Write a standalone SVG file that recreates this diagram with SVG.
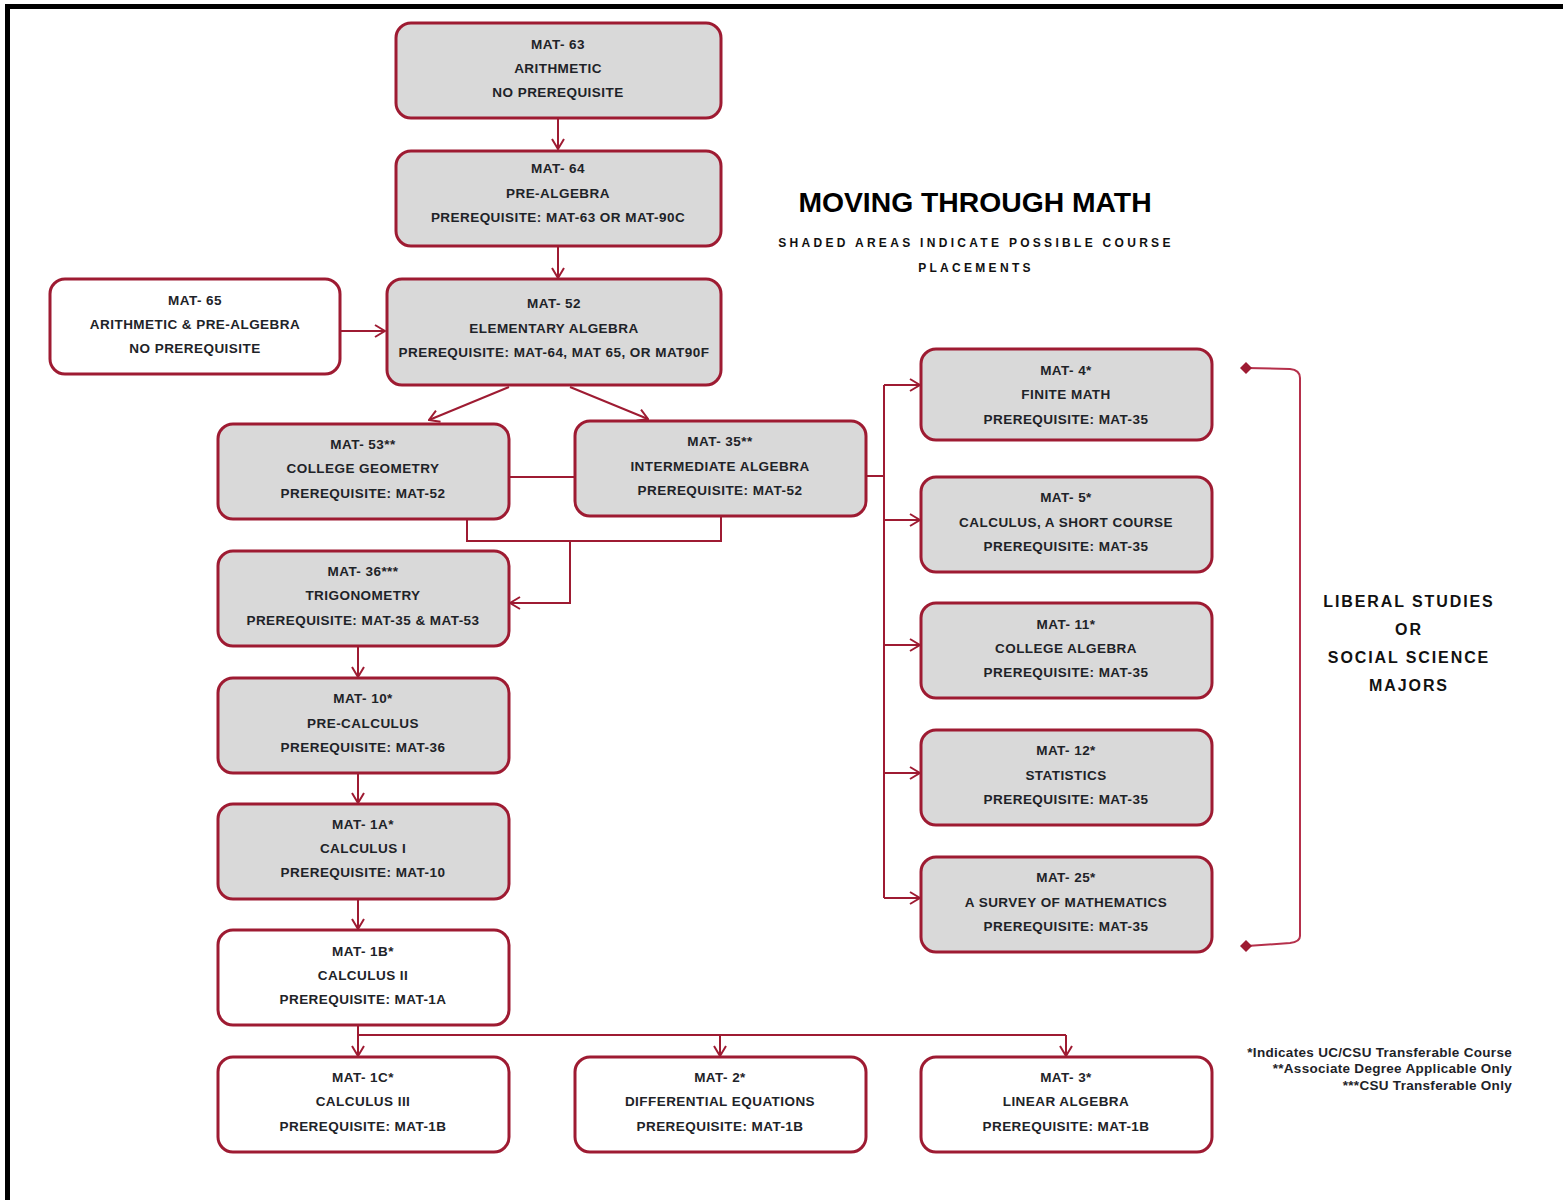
<svg xmlns="http://www.w3.org/2000/svg" width="1563" height="1200" viewBox="0 0 1563 1200">
<defs>
<style>
.box{stroke:#9e1b32;stroke-width:3;}
.g{fill:#d9d9d9;}
.w{fill:#ffffff;}
.t{font-family:"Liberation Sans",Arial,sans-serif;font-size:13.5px;font-weight:bold;fill:#1e2328;text-anchor:middle;letter-spacing:0.45px;}
.c{fill:none;stroke:#9e1b32;stroke-width:2;}
.title{font-family:"Liberation Sans",Arial,sans-serif;font-size:28.3px;font-weight:bold;fill:#000;text-anchor:middle;}
.sub{font-family:"Liberation Sans",Arial,sans-serif;font-size:12px;font-weight:bold;fill:#111;text-anchor:middle;letter-spacing:3.3px;}
.maj{font-family:"Liberation Sans",Arial,sans-serif;font-size:16px;font-weight:bold;fill:#111;text-anchor:middle;letter-spacing:1.9px;}
.leg{font-family:"Liberation Sans",Arial,sans-serif;font-size:13.5px;font-weight:bold;fill:#1e2328;text-anchor:end;letter-spacing:0.3px;}
</style>
<marker id="arr" markerWidth="12" markerHeight="14" refX="11" refY="7" orient="auto" markerUnits="userSpaceOnUse">
<path d="M1,1 L11,7 L1,13" fill="none" stroke="#9e1b32" stroke-width="2"/>
</marker>
</defs>
<rect x="0" y="0" width="1563" height="1200" fill="#ffffff"/>
<rect x="7.5" y="6.5" width="1700" height="1400" fill="none" stroke="#000" stroke-width="5"/>

<g id="title">
<text class="title" x="975" y="212">MOVING THROUGH MATH</text>
<text class="sub" x="976" y="247">SHADED AREAS INDICATE POSSIBLE COURSE</text>
<text class="sub" x="976" y="272">PLACEMENTS</text>
</g>

<g id="connectors">
<path class="c" d="M558,119 V149" marker-end="url(#arr)"/>
<path class="c" d="M558,247 V278" marker-end="url(#arr)"/>
<path class="c" d="M341,331 H385" marker-end="url(#arr)"/>
<path class="c" d="M509,387 L429,420" marker-end="url(#arr)"/>
<path class="c" d="M570,387 L648,419" marker-end="url(#arr)"/>
<path class="c" d="M509,477 H575"/>
<path class="c" d="M467,520 V541 H721 V517"/>
<path class="c" d="M570,541 V603 H510" marker-end="url(#arr)"/>
<path class="c" d="M867,476 H884"/>
<path class="c" d="M884,385 V898"/>
<path class="c" d="M884,385 H920" marker-end="url(#arr)"/>
<path class="c" d="M884,520 H920" marker-end="url(#arr)"/>
<path class="c" d="M884,645 H920" marker-end="url(#arr)"/>
<path class="c" d="M884,773 H920" marker-end="url(#arr)"/>
<path class="c" d="M884,898 H920" marker-end="url(#arr)"/>
<path class="c" d="M358,647 V677" marker-end="url(#arr)"/>
<path class="c" d="M358,774 V803" marker-end="url(#arr)"/>
<path class="c" d="M358,900 V929" marker-end="url(#arr)"/>
<path class="c" d="M358,1026 V1056" marker-end="url(#arr)"/>
<path class="c" d="M358,1035 H1066"/>
<path class="c" d="M720,1035 V1056" marker-end="url(#arr)"/>
<path class="c" d="M1066,1035 V1056" marker-end="url(#arr)"/>
</g>

<g id="bracket">
<path d="M1247,368 L1290,369 Q1300,370 1300,378 L1300,936 Q1300,942 1290,943 L1247,946" fill="none" stroke="#b5304b" stroke-width="2"/>
<polygon points="1240,368 1246,362 1252,368 1246,374" fill="#9e1b32"/>
<polygon points="1240,946 1246,940 1252,946 1246,952" fill="#9e1b32"/>
</g>

<g id="majors">
<text class="maj" x="1409" y="607">LIBERAL STUDIES</text>
<text class="maj" x="1409" y="635">OR</text>
<text class="maj" x="1409" y="663">SOCIAL SCIENCE</text>
<text class="maj" x="1409" y="691">MAJORS</text>
</g>

<g id="legend">
<text class="leg" x="1512" y="1057">*Indicates UC/CSU Transferable Course</text>
<text class="leg" x="1512" y="1073">**Associate Degree Applicable Only</text>
<text class="leg" x="1512" y="1090">***CSU Transferable Only</text>
</g>

<g id="mat63">
<rect class="box g" x="396" y="23" width="325" height="95" rx="15"/>
<text class="t" x="558" y="49">MAT- 63</text>
<text class="t" x="558" y="73">ARITHMETIC</text>
<text class="t" x="558" y="97">NO PREREQUISITE</text>
</g>
<g id="mat64">
<rect class="box g" x="396" y="151" width="325" height="95" rx="15"/>
<text class="t" x="558" y="173">MAT- 64</text>
<text class="t" x="558" y="198">PRE-ALGEBRA</text>
<text class="t" x="558" y="222">PREREQUISITE: MAT-63 OR MAT-90C</text>
</g>
<g id="mat65">
<rect class="box w" x="50" y="279" width="290" height="95" rx="15"/>
<text class="t" x="195" y="305">MAT- 65</text>
<text class="t" x="195" y="329">ARITHMETIC &amp; PRE-ALGEBRA</text>
<text class="t" x="195" y="353">NO PREREQUISITE</text>
</g>
<g id="mat52">
<rect class="box g" x="387" y="279" width="334" height="106" rx="15"/>
<text class="t" x="554" y="308">MAT- 52</text>
<text class="t" x="554" y="333">ELEMENTARY ALGEBRA</text>
<text class="t" x="554" y="357">PREREQUISITE: MAT-64, MAT 65, OR MAT90F</text>
</g>
<g id="mat53">
<rect class="box g" x="218" y="424" width="291" height="95" rx="15"/>
<text class="t" x="363" y="449">MAT- 53**</text>
<text class="t" x="363" y="473">COLLEGE GEOMETRY</text>
<text class="t" x="363" y="498">PREREQUISITE: MAT-52</text>
</g>
<g id="mat35">
<rect class="box g" x="575" y="421" width="291" height="95" rx="15"/>
<text class="t" x="720" y="446">MAT- 35**</text>
<text class="t" x="720" y="471">INTERMEDIATE ALGEBRA</text>
<text class="t" x="720" y="495">PREREQUISITE: MAT-52</text>
</g>
<g id="mat36">
<rect class="box g" x="218" y="551" width="291" height="95" rx="15"/>
<text class="t" x="363" y="576">MAT- 36***</text>
<text class="t" x="363" y="600">TRIGONOMETRY</text>
<text class="t" x="363" y="625">PREREQUISITE: MAT-35 &amp; MAT-53</text>
</g>
<g id="mat10">
<rect class="box g" x="218" y="678" width="291" height="95" rx="15"/>
<text class="t" x="363" y="703">MAT- 10*</text>
<text class="t" x="363" y="728">PRE-CALCULUS</text>
<text class="t" x="363" y="752">PREREQUISITE: MAT-36</text>
</g>
<g id="mat1a">
<rect class="box g" x="218" y="804" width="291" height="95" rx="15"/>
<text class="t" x="363" y="829">MAT- 1A*</text>
<text class="t" x="363" y="853">CALCULUS I</text>
<text class="t" x="363" y="877">PREREQUISITE: MAT-10</text>
</g>
<g id="mat1b">
<rect class="box w" x="218" y="930" width="291" height="95" rx="15"/>
<text class="t" x="363" y="956">MAT- 1B*</text>
<text class="t" x="363" y="980">CALCULUS II</text>
<text class="t" x="363" y="1004">PREREQUISITE: MAT-1A</text>
</g>
<g id="mat1c">
<rect class="box w" x="218" y="1057" width="291" height="95" rx="15"/>
<text class="t" x="363" y="1082">MAT- 1C*</text>
<text class="t" x="363" y="1106">CALCULUS III</text>
<text class="t" x="363" y="1131">PREREQUISITE: MAT-1B</text>
</g>
<g id="mat2">
<rect class="box w" x="575" y="1057" width="291" height="95" rx="15"/>
<text class="t" x="720" y="1082">MAT- 2*</text>
<text class="t" x="720" y="1106">DIFFERENTIAL EQUATIONS</text>
<text class="t" x="720" y="1131">PREREQUISITE: MAT-1B</text>
</g>
<g id="mat3">
<rect class="box w" x="921" y="1057" width="291" height="95" rx="15"/>
<text class="t" x="1066" y="1082">MAT- 3*</text>
<text class="t" x="1066" y="1106">LINEAR ALGEBRA</text>
<text class="t" x="1066" y="1131">PREREQUISITE: MAT-1B</text>
</g>
<g id="mat4">
<rect class="box g" x="921" y="349" width="291" height="91" rx="15"/>
<text class="t" x="1066" y="375">MAT- 4*</text>
<text class="t" x="1066" y="399">FINITE MATH</text>
<text class="t" x="1066" y="424">PREREQUISITE: MAT-35</text>
</g>
<g id="mat5">
<rect class="box g" x="921" y="477" width="291" height="95" rx="15"/>
<text class="t" x="1066" y="502">MAT- 5*</text>
<text class="t" x="1066" y="527">CALCULUS, A SHORT COURSE</text>
<text class="t" x="1066" y="551">PREREQUISITE: MAT-35</text>
</g>
<g id="mat11">
<rect class="box g" x="921" y="603" width="291" height="95" rx="15"/>
<text class="t" x="1066" y="629">MAT- 11*</text>
<text class="t" x="1066" y="653">COLLEGE ALGEBRA</text>
<text class="t" x="1066" y="677">PREREQUISITE: MAT-35</text>
</g>
<g id="mat12">
<rect class="box g" x="921" y="730" width="291" height="95" rx="15"/>
<text class="t" x="1066" y="755">MAT- 12*</text>
<text class="t" x="1066" y="780">STATISTICS</text>
<text class="t" x="1066" y="804">PREREQUISITE: MAT-35</text>
</g>
<g id="mat25">
<rect class="box g" x="921" y="857" width="291" height="95" rx="15"/>
<text class="t" x="1066" y="882">MAT- 25*</text>
<text class="t" x="1066" y="907">A SURVEY OF MATHEMATICS</text>
<text class="t" x="1066" y="931">PREREQUISITE: MAT-35</text>
</g>
</svg>
